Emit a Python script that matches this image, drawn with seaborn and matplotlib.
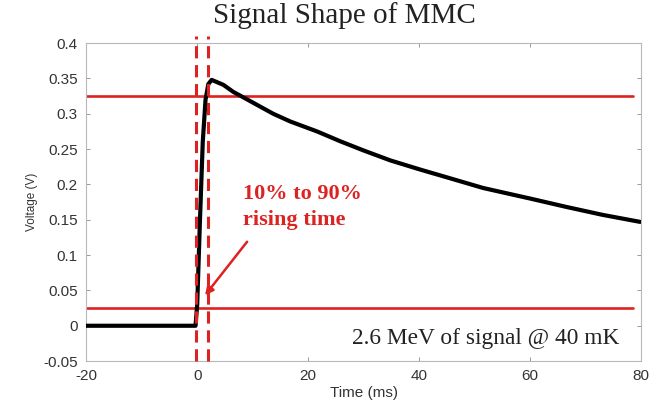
import matplotlib
matplotlib.use("Agg")
import matplotlib.pyplot as plt
import seaborn as sns
import pandas as pd

# ---- data ----
time_ms = [-20, -10, -1.0, -0.3, 0.0, 0.5, 1.0, 1.5, 2.0, 2.6, 4.7, 6.5, 8.6, 13.7, 16.8,
           21.6, 25.8, 30, 34.8, 40.2, 45, 51.5, 60, 66.6, 73, 79.8]
voltage_v = [0.0, 0.0, 0.0, 0.0, 0.03, 0.15, 0.26, 0.32, 0.342, 0.348, 0.341, 0.331, 0.322,
             0.300, 0.289, 0.275, 0.261, 0.248, 0.234, 0.221, 0.21, 0.195, 0.18, 0.168,
             0.157, 0.147]
level_lines = [0.325, 0.025]          # 90% and 10% levels
rise_marks = [-0.3, 1.9]              # 10% / 90% crossing times
x_ticks = [-20, 0, 20, 40, 60, 80]
y_ticks = [-0.05, 0, 0.05, 0.1, 0.15, 0.2, 0.25, 0.3, 0.35, 0.4]
y_tick_labels = ["-0.05", "0", "0.05", "0.1", "0.15", "0.2", "0.25", "0.3", "0.35", "0.4"]
x_tick_labels = ["-20", "0", "20", "40", "60", "80"]
title = "Signal Shape of MMC"
note_rise = "10% to 90%\nrising time"
note_signal = "2.6 MeV of signal @ 40 mK"

df = pd.DataFrame({"Time (ms)": time_ms, "Voltage (V)": voltage_v})

sns.set_theme(style="ticks")
plt.rcParams["font.family"] = ["Liberation Sans", "DejaVu Sans"]
plt.rcParams["axes.unicode_minus"] = False

RED = "#dd2222"
fig = plt.figure(figsize=(6.53, 4.03), dpi=100)
ax = fig.add_axes([0.132, 0.104, 0.850, 0.789])

for lv in level_lines:
    ax.plot([-20, 78.5], [lv, lv], color=RED, lw=1.9, zorder=2)
for xm in rise_marks:
    ax.plot([xm, xm], [-0.05, 0.41], color=RED, lw=2.2, ls=(0, (4, 2.2)),
            clip_on=False, zorder=4)

sns.lineplot(data=df, x="Time (ms)", y="Voltage (V)", color="black", lw=3.0,
             ax=ax, zorder=3)

ax.set_xlim(-20, 80)
ax.set_ylim(-0.05, 0.4)
ax.set_xticks(x_ticks)
ax.set_xticklabels(x_tick_labels)
ax.set_yticks(y_ticks)
ax.set_yticklabels(y_tick_labels)
ax.tick_params(direction="in", top=True, right=True, length=3, width=0.6,
               color="#888888", labelsize=11, labelcolor="#333333", pad=6)
for s in ax.spines.values():
    s.set_color("#b8b8b8")
    s.set_linewidth(0.8)
ax.set_xlabel("Time (ms)", fontsize=11, color="#333333", labelpad=2)
ax.set_ylabel("Voltage (V)", fontsize=8.5, color="#333333", labelpad=4)

ax.text(8.2, 0.168, note_rise, color=RED, fontsize=16, fontweight="bold",
        family=["Liberation Serif"], ha="left", va="center", linespacing=1.35)
ax.annotate("", xy=(1.1, 0.04), xytext=(9.3, 0.122),
            arrowprops=dict(arrowstyle="-|>", color=RED, lw=1.8, mutation_scale=12))
ax.text(76.0, -0.0175, note_signal, fontsize=16.8, family=["Liberation Serif"],
        color="#222222", ha="right", va="center")

fig.text(0.528, 1 - 23 / 403, title, fontsize=21, family=["Liberation Serif"],
         color="#222222", ha="center", va="baseline")

fig.savefig("out.png", dpi=100)
